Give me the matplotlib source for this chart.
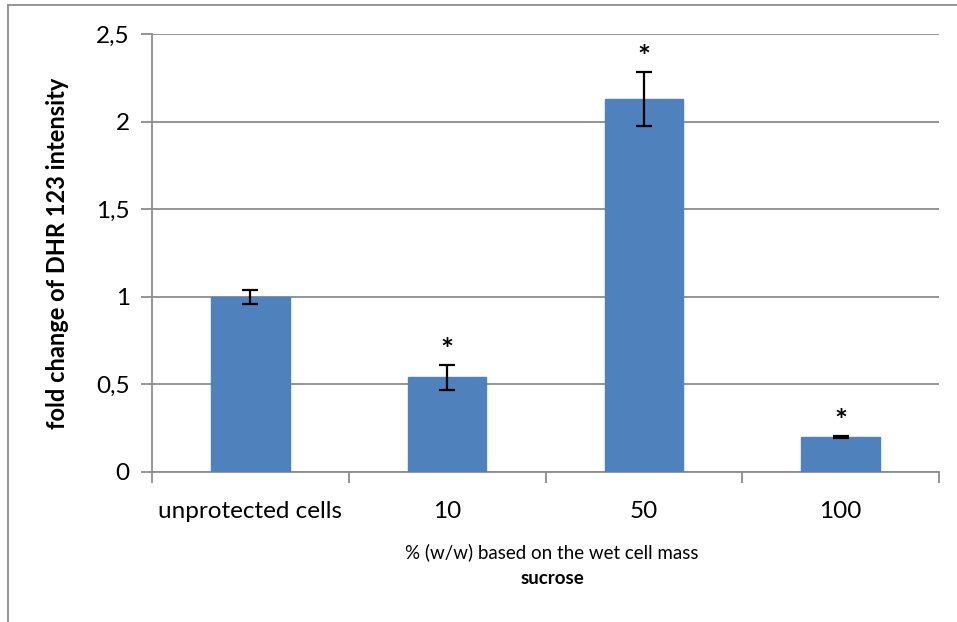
import matplotlib.pyplot as plt
from matplotlib.lines import Line2D

categories = ['unprotected cells', '10', '50', '100']
fold_change = [1.0, 0.54, 2.13, 0.20]
errors = [0.04, 0.07, 0.155, 0.005]
significant = [False, True, True, True]

plt.rcParams['font.family'] = ['Lato', 'DejaVu Sans']
grey = '#8c8c8c'

fig = plt.figure(figsize=(9.57, 6.22), dpi=100)
ax = fig.add_axes([152 / 957, 1 - 472 / 622, (939 - 152) / 957, (472 - 34) / 622])

x = range(len(categories))
ax.bar(x, fold_change, width=0.4, color='#4f81bd', edgecolor='#4f81bd', zorder=3)
ax.errorbar(x, fold_change, yerr=errors, fmt='none', ecolor='black',
            elinewidth=1.6, capsize=6, capthick=1.6, zorder=4)
for i, (v, e, s) in enumerate(zip(fold_change, errors, significant)):
    if s:
        ax.text(i, v + e, '*', ha='center', va='bottom', fontsize=22, fontweight='bold')

ax.set_xlim(-0.5, len(categories) - 0.5)
ax.set_ylim(0, 2.5)
ax.set_yticks([0, 0.5, 1, 1.5, 2, 2.5])
ax.set_yticklabels(['0', '0,5', '1', '1,5', '2', '2,5'])
ax.yaxis.grid(True, color=grey, linewidth=1.3, zorder=0)
ax.set_axisbelow(True)

# category boundaries carry the tick marks, labels sit under the bars
ax.set_xticks([i + 0.5 for i in range(-1, len(categories))])
ax.set_xticklabels([])
ax.set_xticks(list(x), minor=True)
ax.set_xticklabels(categories, minor=True, fontsize=17.5)
ax.tick_params(axis='x', which='minor', length=0, pad=21)
ax.tick_params(axis='x', which='major', length=8, color=grey, width=1.3)
ax.tick_params(axis='y', length=8, color=grey, width=1.3, labelsize=17.5, pad=8)

for side in ['top', 'right']:
    ax.spines[side].set_visible(False)
for side in ['left', 'bottom']:
    ax.spines[side].set_color(grey)
    ax.spines[side].set_linewidth(1.3)

fig.text(58 / 957, 1 - 253 / 622, 'fold change of DHR 123 intensity', rotation=90,
         ha='center', va='center', fontsize=17, fontweight='bold')
fig.text(552 / 957, 1 - 552 / 622, '% (w/w) based on the wet cell mass',
         ha='center', va='center', fontsize=13.5)
fig.text(552 / 957, 1 - 578 / 622, 'sucrose',
         ha='center', va='center', fontsize=13.5, fontweight='bold')

# outer frame on the left and top
fig.add_artist(Line2D([8 / 957, 8 / 957], [0, 1 - 5 / 622], transform=fig.transFigure,
                      color=grey, linewidth=1.3))
fig.add_artist(Line2D([8 / 957, 1], [1 - 5 / 622, 1 - 5 / 622], transform=fig.transFigure,
                      color=grey, linewidth=1.3))

fig.savefig('out.png', dpi=100)
